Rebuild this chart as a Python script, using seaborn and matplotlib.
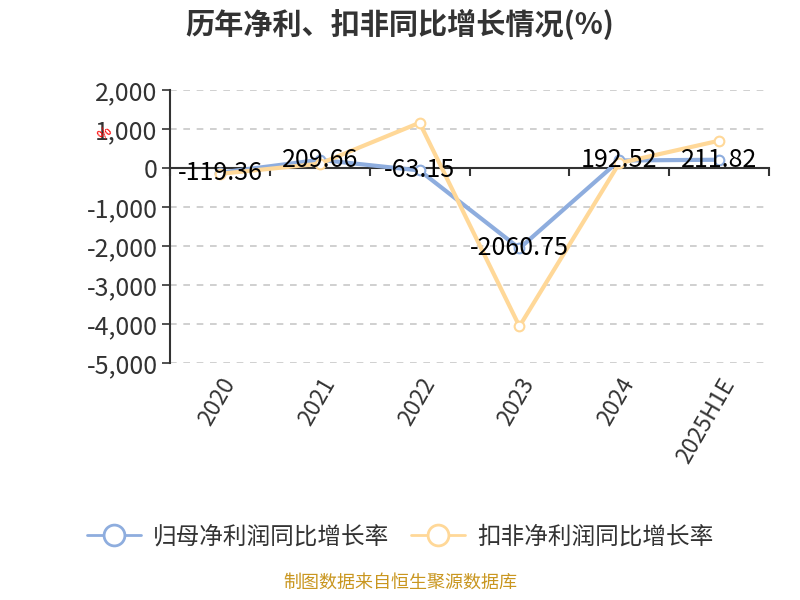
import matplotlib
matplotlib.use("Agg")
import matplotlib.pyplot as plt
import seaborn as sns
import pandas as pd
import numpy as np
from matplotlib.lines import Line2D

categories = ["2020", "2021", "2022", "2023", "2024", "2025H1E"]
net_profit_growth = [-119.36, 209.66, -63.15, -2060.75, 192.52, 211.82]
deducted_growth = [-150, 110, 1160, -4060, 125, 700]
series_names = ["归母净利润同比增长率", "扣非净利润同比增长率"]
yticks = [2000, 1000, 0, -1000, -2000, -3000, -4000, -5000]

sns.set_theme(style="white")
plt.rcParams["font.family"] = ["Noto Sans CJK SC", "DejaVu Sans"]

df = pd.DataFrame({
    "year": categories * 2,
    "value": net_profit_growth + deducted_growth,
    "series": [series_names[0]] * len(categories) + [series_names[1]] * len(categories),
})
df["pos"] = list(range(len(categories))) * 2

fig = plt.figure(figsize=(8, 6), dpi=100)
ax = fig.add_axes([0.2125, 0.395, 0.7488, 0.455])

palette = {series_names[0]: "#8EADDE", series_names[1]: "#FFD898"}
sns.lineplot(data=df, x="pos", y="value", hue="series", palette=palette,
             linewidth=3, marker="o", markersize=7, markerfacecolor="white",
             markeredgewidth=1.5, ax=ax, legend=False, zorder=3)
for line, name in zip(ax.get_lines(), series_names):
    line.set_markeredgecolor(palette[name])

ax.set_xlim(-0.5, len(categories) - 0.5)
ax.set_ylim(-5000, 2000)
ax.set_yticks(yticks)
ax.set_yticklabels([f"{v:,}" for v in yticks], fontsize=18, color="#333333")
ax.set_xticks(range(len(categories)))
ax.set_xticklabels(categories, rotation=60, ha="right", va="top",
                   rotation_mode="anchor", fontsize=16.5, color="#333333")
ax.tick_params(axis="x", length=0, pad=8)
ax.tick_params(axis="y", length=6, width=1.2, color="#333333", direction="out", left=True, pad=3)
ax.set_xlabel("")
ax.set_ylabel("")

for v in yticks:
    if v != 0:
        ax.axhline(v, color="#c8c8c8", linestyle=(0, (4, 4)), linewidth=1.2, zorder=0)

for s in ["top", "right", "bottom"]:
    ax.spines[s].set_visible(False)
ax.spines["left"].set_color("#333333")
ax.spines["left"].set_linewidth(1.5)

sec = ax.secondary_xaxis(0, transform=ax.transData)
sec.set_xticks(np.arange(-0.5, len(categories), 1.0))
sec.set_xticklabels([])
sec.tick_params(axis="x", length=6, width=1.5, color="#333333", direction="out")
sec.spines["bottom"].set_color("#333333")
sec.spines["bottom"].set_linewidth(1.5)

for i, v in enumerate(net_profit_growth):
    ax.text(i, v, f"{v:.2f}", ha="center", va="center", fontsize=18,
            color="black", zorder=5)

fig.text(0.131, 0.778, "%", color="red", fontsize=10, rotation=45,
         ha="center", va="center")

fig.suptitle("历年净利、扣非同比增长情况(%)", x=0.5, y=0.985, fontsize=21,
             fontweight="bold", color="#333333")

handles = [Line2D([], [], color=palette[n], linewidth=2, marker="o", markersize=15,
                  markerfacecolor="white", markeredgewidth=2) for n in series_names]
fig.legend(handles, series_names, loc="center", bbox_to_anchor=(0.5, 0.105),
           ncol=2, frameon=False, fontsize=17, handlelength=2.3,
           columnspacing=0.9, handletextpad=0.5, labelcolor="#333333")

fig.text(0.5, 0.014, "制图数据来自恒生聚源数据库", ha="center", va="bottom",
         fontsize=13, color="#C9961F")

fig.savefig("out.png", dpi=100)
